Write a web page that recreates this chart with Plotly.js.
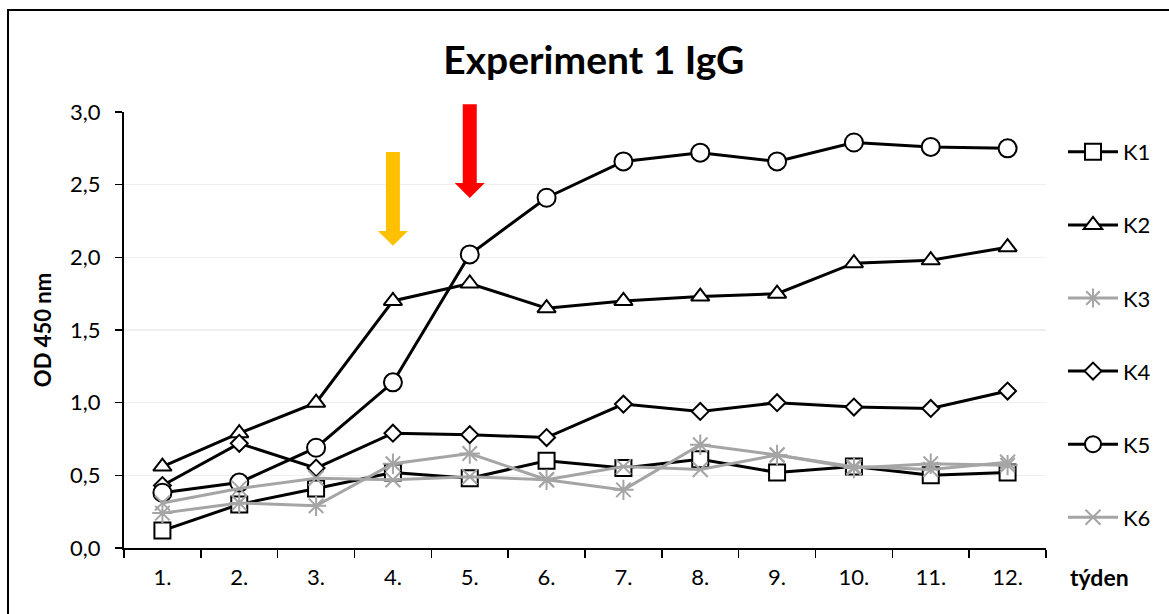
<!DOCTYPE html>
<html>
<head>
<meta charset="utf-8">
<script src="https://cdn.plot.ly/plotly-3.0.1.min.js"></script>
<style>
  html, body { margin: 0; padding: 0; background: #fff; }
  #wrap { position: relative; width: 1169px; height: 614px; overflow: hidden; }
  #chart { width: 1169px; height: 614px; }
  #frame { position: absolute; left: 7px; top: 9px; width: 1300px; height: 800px;
           border: 2px solid #000; pointer-events: none; box-sizing: border-box; }
</style>
</head>
<body>
<div id="wrap">
  <div id="chart"></div>
  <div id="frame"></div>
</div>
<script>
// ---- data ----
const weeks = ['1.','2.','3.','4.','5.','6.','7.','8.','9.','10.','11.','12.'];
const K1 = [0.12, 0.30, 0.41, 0.52, 0.48, 0.60, 0.55, 0.61, 0.52, 0.56, 0.50, 0.52];
const K2 = [0.56, 0.79, 1.00, 1.70, 1.82, 1.65, 1.70, 1.73, 1.75, 1.96, 1.98, 2.07];
const K3 = [0.24, 0.31, 0.29, 0.58, 0.65, 0.47, 0.40, 0.71, 0.64, 0.55, 0.58, 0.57];
const K4 = [0.43, 0.72, 0.55, 0.79, 0.78, 0.76, 0.99, 0.94, 1.00, 0.97, 0.96, 1.08];
const K5 = [0.38, 0.45, 0.69, 1.14, 2.02, 2.41, 2.66, 2.72, 2.66, 2.79, 2.76, 2.75];
const K6 = [0.31, 0.41, 0.48, 0.47, 0.49, 0.47, 0.56, 0.54, 0.64, 0.56, 0.54, 0.59];
const seriesNames = ['K1','K2','K3','K4','K5','K6'];
const arrowWeeks = ['4.', '5.'];

const BLACK = '#000000';
const GRAY = '#A5A5A5';
const FONT = 'Lato, "Open Sans", sans-serif';

function tr(name, y, color, symbol, size, mlc, mfill) {
  return {
    type: 'scatter', mode: 'lines+markers', name: name, x: weeks, y: y,
    legendgroup: name,
    line: { color: color, width: 3 },
    marker: { symbol: symbol, size: size, color: mfill, line: { color: mlc, width: 2 } },
    cliponaxis: false
  };
}

const data = [
  tr(seriesNames[0], K1, BLACK, 'square', 16, BLACK, '#fff'),
  tr(seriesNames[1], K2, BLACK, 'triangle-up', 16, BLACK, '#fff'),
  tr(seriesNames[2], K3, GRAY, 'asterisk-open', 17, GRAY, GRAY),
  tr(seriesNames[3], K4, BLACK, 'diamond', 13, BLACK, '#fff'),
  tr(seriesNames[4], K5, BLACK, 'circle', 18, BLACK, '#fff'),
  tr(seriesNames[5], K6, GRAY, 'x-thin-open', 15, GRAY, GRAY)
];

function arrowPath(top, head, tip) {
  return 'M-7,' + top + ' L7,' + top + ' L7,' + head + ' L15,' + head +
         ' L0,' + tip + ' L-15,' + head + ' L-7,' + head + ' Z';
}

const layout = {
  width: 1169, height: 614,
  paper_bgcolor: '#fff', plot_bgcolor: '#fff',
  margin: { l: 124, r: 123, t: 112, b: 66 },
  separators: ', ',
  font: { family: FONT, size: 22, color: '#000' },
  title: {
    text: '<b>Experiment 1 IgG</b>',
    font: { family: FONT, size: 39, color: '#000' },
    x: 0.508, xref: 'container', xanchor: 'center',
    y: 0.902, yref: 'container', yanchor: 'middle'
  },
  xaxis: {
    type: 'category', range: [-0.5, 11.5],
    showline: true, linecolor: '#000', linewidth: 2,
    ticks: 'outside', tickson: 'boundaries', ticklen: 8, tickwidth: 1.5, tickcolor: '#000',
    showgrid: false, zeroline: false,
    tickfont: { family: FONT, size: 22, color: '#000' },
    ticklabelstandoff: 9
  },
  yaxis: {
    range: [0, 3], dtick: 0.5, tick0: 0, tickformat: '.1f',
    showline: true, linecolor: '#000', linewidth: 2,
    ticks: 'outside', ticklen: 7, tickwidth: 1.5, tickcolor: '#000',
    gridcolor: '#EFEFEF', gridwidth: 1.5, zeroline: false,
    tickfont: { family: FONT, size: 22, color: '#000' },
    ticklabelstandoff: 10,
    title: { text: '<b>OD 450 nm</b>', font: { family: FONT, size: 22, color: '#000' }, standoff: 12 }
  },
  showlegend: true,
  legend: {
    xref: 'container', yref: 'container',
    x: 1063 / 1169, xanchor: 'left',
    y: 1 - 131 / 614, yanchor: 'top',
    font: { family: FONT, size: 22, color: '#000' },
    tracegroupgap: 41.5, traceorder: 'grouped',
    itemwidth: 50, maxheight: 600,
    bgcolor: 'rgba(0,0,0,0)'
  },
  annotations: [
    { text: '<b>týden</b>', xref: 'paper', yref: 'paper',
      x: (1099 - 124) / 922, y: -(577 - 548) / 436, xanchor: 'center', yanchor: 'middle',
      showarrow: false, font: { family: FONT, size: 23, color: '#000' } }
  ],
  shapes: [
    { type: 'path', xref: 'x', yref: 'paper', xsizemode: 'pixel', xanchor: weeks.indexOf(arrowWeeks[0]),
      path: arrowPath(0.908, 0.727, 0.693), fillcolor: '#FFC000', line: { width: 0 } },
    { type: 'path', xref: 'x', yref: 'paper', xsizemode: 'pixel', xanchor: weeks.indexOf(arrowWeeks[1]),
      path: arrowPath(1.018, 0.837, 0.803), fillcolor: '#FF0000', line: { width: 0 } }
  ]
};

Plotly.newPlot('chart', data, layout, { displayModeBar: false, staticPlot: true });
</script>
</body>
</html>
